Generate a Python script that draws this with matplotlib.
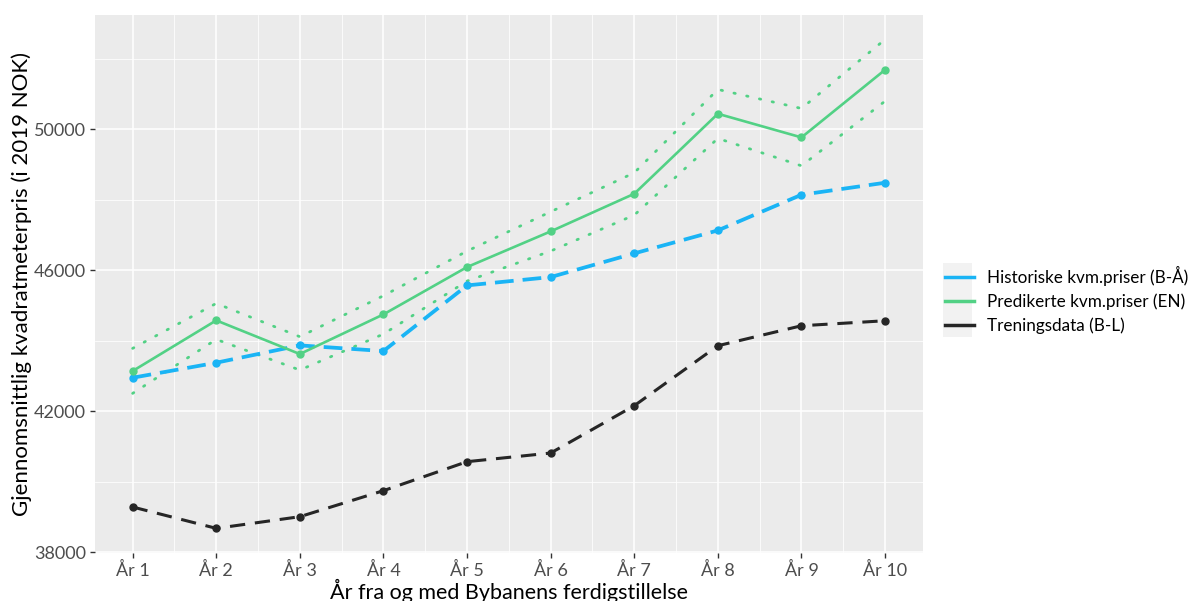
import matplotlib
matplotlib.use("Agg")
import matplotlib.pyplot as plt
from matplotlib.lines import Line2D
from matplotlib.patches import Rectangle

# Years since completion of the light rail
years = list(range(1, 11))
year_labels = ["År 1", "År 2", "År 3", "År 4", "År 5", "År 6", "År 7", "År 8", "År 9", "År 10"]

# Average price per square metre (2019 NOK)
historiske = [42945, 43371, 43863, 43702, 45565, 45801, 46473, 47125, 48137, 48478]
predikerte = [43135, 44572, 43617, 44742, 46085, 47097, 48165, 50435, 49764, 51683]
pred_ovre = [43778, 45054, 44109, 45272, 46539, 47655, 48761, 51125, 50586, 52544]
pred_nedre = [42501, 44033, 43163, 44184, 45688, 46539, 47560, 49736, 48959, 50794]
trening = [39277, 38671, 39002, 39740, 40563, 40808, 42151, 43853, 44420, 44562]

series_names = ["Historiske kvm.priser (B-Å)", "Predikerte kvm.priser (EN)", "Treningsdata (B-L)"]

BLUE = "#1AB4F5"
GREEN = "#52D185"
DARK = "#262626"

plt.rcParams["font.family"] = ["Lato", "DejaVu Sans"]

W, H = 1197, 601
fig = plt.figure(figsize=(W / 100, H / 100), dpi=100)
left, right, top, bottom = 95, 922.7, 15, 552.8
ax = fig.add_axes([left / W, 1 - bottom / H, (right - left) / W, (bottom - top) / H])
ax.set_facecolor("#EBEBEB")
for s in ax.spines.values():
    s.set_visible(False)

# ggplot-like grid: major and minor lines
ax.set_xticks(years)
ax.set_xticks([y + 0.5 for y in years[:-1]], minor=True)
yticks = [38000, 42000, 46000, 50000]
ax.set_yticks(yticks)
ax.set_yticks([40000, 44000, 48000, 52000], minor=True)
ax.grid(which="major", color="white", linewidth=1.1)
ax.grid(which="minor", color="white", linewidth=0.55)
ax.set_axisbelow(True)

# Prediction interval (dotted)
ax.plot(years, pred_ovre, color=GREEN, linewidth=2.0, linestyle=(0, (0.5, 4.2)),
        dash_capstyle="round", zorder=2)
ax.plot(years, pred_nedre, color=GREEN, linewidth=2.0, linestyle=(0, (0.5, 4.2)),
        dash_capstyle="round", zorder=2)

# Series
ax.plot(years, trening, color=DARK, linewidth=2.2, linestyle=(0, (5, 3.2)), zorder=3)
ax.plot(years, trening, "o", color=DARK, markersize=5, zorder=4)
ax.plot(years, historiske, color=BLUE, linewidth=2.7, linestyle=(0, (5, 2.4)), zorder=3)
ax.plot(years, historiske, "o", color=BLUE, markersize=5, zorder=4)
ax.plot(years, predikerte, color=GREEN, linewidth=1.9, zorder=3)
ax.plot(years, predikerte, "o", color=GREEN, markersize=5, zorder=4)

ymin, ymax = min(trening), max(pred_ovre)
pad = (ymax - ymin) * 0.05
ax.set_ylim(ymin - pad, ymax + pad)
ax.set_xlim(1 - 0.45, 10 + 0.45)

ax.set_xticklabels(year_labels)
ax.set_yticklabels([str(v) for v in yticks])
ax.tick_params(axis="both", which="major", length=3.5, width=1.0, color="#333333",
               labelcolor="#4D4D4D", labelsize=13, pad=3)
ax.tick_params(axis="both", which="minor", length=0)

ax.set_xlabel("År fra og med Bybanens ferdigstillelse", fontsize=15.5, color="black", labelpad=0)
ax.set_ylabel("Gjennomsnittlig kvadratmeterpris (i 2019 NOK)", fontsize=16, color="black", labelpad=1.5)

# Legend with grey key boxes
handles = [
    Line2D([], [], color=BLUE, linewidth=2.5),
    Line2D([], [], color=GREEN, linewidth=2.5),
    Line2D([], [], color=DARK, linewidth=2.5),
]
leg = fig.legend(handles, series_names, loc="center left",
                 bbox_to_anchor=(938 / W, 1 - 300 / H), frameon=False,
                 fontsize=12.3, handlelength=1.7, handletextpad=0.75,
                 labelspacing=0.42, borderaxespad=0)
fig.add_artist(Rectangle((943 / W, 1 - 337 / H), 29 / W, 74 / H,
                         transform=fig.transFigure, facecolor="#F2F2F2",
                         edgecolor="none", zorder=0))

fig.savefig("out.png", dpi=100, facecolor="white")
